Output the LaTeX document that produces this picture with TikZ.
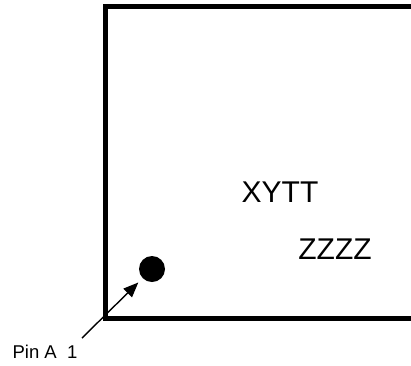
\documentclass[tikz,border=0pt]{standalone}
\usepackage{fontspec}
\setmainfont{Liberation Sans}
\usetikzlibrary{arrows.meta}

\begin{document}
\begin{tikzpicture}[x=1pt, y=-1pt]

    \useasboundingbox (0, 0) rectangle (411, 365);

    \draw[line width=5pt, miter limit=10] (411, 6.5) -- (105.5, 6.5) -- (105.5, 318) -- (411, 318);

    \node[font=\fontsize{30}{36}\selectfont] (xytt) at (280, 192) {XYTT};
    \node[font=\fontsize{30}{36}\selectfont] (zzzz) at (335, 249) {ZZZZ};

    \node[circle, fill=black, minimum size=26pt, inner sep=0pt] (pin) at (152, 269) {};

    \node[font=\fontsize{18.5}{22}\selectfont] (pinlabel) at (45, 352) {Pin A\ \ 1};
    \coordinate (tail) at (82, 338);

    \draw[line width=1.4pt, -{Triangle[length=15pt, width=12pt]}, shorten >=6pt] (tail) -- (pin);

\end{tikzpicture}
\end{document}
